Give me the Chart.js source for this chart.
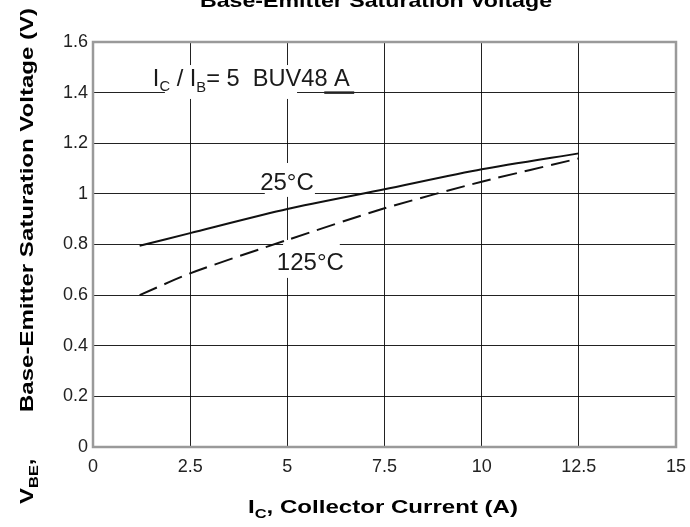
<!DOCTYPE html>
<html>
<head>
<meta charset="utf-8">
<script src="https://cdn.jsdelivr.net/npm/chart.js@4/dist/chart.umd.min.js"></script>
<style>
html,body{margin:0;padding:0;background:#fff;}
#wrap{position:relative;width:690px;height:527px;overflow:hidden;}
canvas{display:block;}
</style>
</head>
<body>
<div id="wrap"><canvas id="c" width="690" height="527"></canvas></div>
<script>
// ---- data ----
const xTicks = [0, 2.5, 5, 7.5, 10, 12.5, 15];
const xTickLabels = ['0', '2.5', '5', '7.5', '10', '12.5', '15'];
const yTicks = [0, 0.2, 0.4, 0.6, 0.8, 1, 1.2, 1.4, 1.6];
const yTickLabels = ['0', '0.2', '0.4', '0.6', '0.8', '1', '1.2', '1.4', '1.6'];
const collectorCurrent = [1.2, 2.5, 5, 7.5, 10, 12.5];
const vbe25C = [0.795, 0.845, 0.94, 1.018, 1.097, 1.16];
const vbe125C = [0.60, 0.686, 0.818, 0.943, 1.048, 1.14];
const seriesNames = ['25°C', '125°C'];

const FONT = "'Liberation Sans', Arial, sans-serif";

function drawRich(ctx, parts, x, y, opt) {
  opt = opt || {};
  let natural = 0;
  parts.forEach(p => {
    ctx.font = (p.bold ? 'bold ' : '') + p.size + 'px ' + FONT;
    p.w = ctx.measureText(p.t).width;
    natural += p.w;
  });
  const sx = opt.sx ? opt.sx : (opt.target ? opt.target / natural : 1);
  const total = natural * sx;
  let start = x;
  if (opt.align === 'center') start = x - total / 2;
  ctx.save();
  ctx.translate(start, y);
  if (opt.rotate) ctx.rotate(opt.rotate);
  ctx.scale(sx, 1);
  ctx.fillStyle = opt.color || '#000';
  ctx.textBaseline = 'alphabetic';
  ctx.textAlign = 'left';
  let cx = 0;
  parts.forEach(p => {
    ctx.font = (p.bold ? 'bold ' : '') + p.size + 'px ' + FONT;
    ctx.fillText(p.t, cx, p.dy || 0);
    cx += p.w;
  });
  ctx.restore();
  return sx;
}

const overlay = {
  id: 'overlay',
  beforeDatasetsDraw(chart) {
    const ctx = chart.ctx, xs = chart.scales.x, ys = chart.scales.y;
    const a = chart.chartArea;
    const X = v => xs.getPixelForValue(v), Y = v => ys.getPixelForValue(v);
    ctx.save();
    // label knock-outs over the grid
    ctx.fillStyle = '#fff';
    const rects = [[1.85, 5.25, 1.509, 1.375], [4.42, 5.71, 1.122, 0.988], [4.89, 6.35, 0.818, 0.668]];
    rects.forEach(r => ctx.fillRect(X(r[0]), Y(r[2]), X(r[1]) - X(r[0]), Y(r[3]) - Y(r[2])));
    // frame
    ctx.strokeStyle = '#9a9a9a';
    ctx.lineWidth = 2.5;
    ctx.strokeRect(a.left, a.top, a.right - a.left, a.bottom - a.top);
    // underline of "A"
    ctx.strokeStyle = '#222';
    ctx.lineWidth = 2.5;
    ctx.beginPath();
    ctx.moveTo(X(5.95), Y(1.4));
    ctx.lineTo(X(6.72), Y(1.4));
    ctx.stroke();
    ctx.restore();
  },
  afterDatasetsDraw(chart) {
    const ctx = chart.ctx, xs = chart.scales.x, ys = chart.scales.y;
    const X = v => xs.getPixelForValue(v), Y = v => ys.getPixelForValue(v);
    drawRich(ctx, [{t: seriesNames[0], size: 24}], X(4.30), Y(1.015), {color: '#1a1a1a'});
    drawRich(ctx, [{t: seriesNames[1], size: 24}], X(4.73), Y(0.70), {color: '#1a1a1a'});
    drawRich(ctx, [
      {t: 'I', size: 24}, {t: 'C', size: 15, dy: 5}, {t: ' / ', size: 24},
      {t: 'I', size: 24}, {t: 'B', size: 15, dy: 6}, {t: '= 5  BUV48 A', size: 24}
    ], X(1.54), Y(1.426), {color: '#1a1a1a', target: 197});
  },
  afterDraw(chart) {
    const ctx = chart.ctx;
    // chart title (partly outside the top edge)
    drawRich(ctx, [{t: 'Base-Emitter Saturation Voltage', size: 19, bold: true}], 376, 7, {align: 'center', target: 352});
    // x axis title
    drawRich(ctx, [
      {t: 'I', size: 19, bold: true}, {t: 'C', size: 13, bold: true, dy: 5},
      {t: ', Collector Current (A)', size: 19, bold: true}
    ], 383, 513, {align: 'center', target: 270});
    // y axis title
    const sx = drawRich(ctx, [
      {t: 'Base-Emitter Saturation Voltage (V)', size: 19, bold: true}
    ], 33, 412, {rotate: -Math.PI / 2, target: 404});
    drawRich(ctx, [
      {t: 'V', size: 19, bold: true}, {t: 'BE', size: 13, bold: true, dy: 5},
      {t: ',', size: 19, bold: true}
    ], 33, 504, {rotate: -Math.PI / 2, sx: sx});
  }
};

const gridColor = (edgeVals) => (c) => {
  const v = c.tick ? c.tick.value : null;
  return edgeVals.includes(v) ? 'rgba(0,0,0,0)' : 'rgba(10,10,10,0.9)';
};

new Chart(document.getElementById('c'), {
  type: 'line',
  data: {
    datasets: [
      {
        label: seriesNames[0],
        data: collectorCurrent.map((x, i) => ({x, y: vbe25C[i]})),
        borderColor: '#111', borderWidth: 2, pointRadius: 0, tension: 0.25, fill: false
      },
      {
        label: seriesNames[1],
        data: collectorCurrent.map((x, i) => ({x, y: vbe125C[i]})),
        borderColor: '#111', borderWidth: 2, borderDash: [19, 8], pointRadius: 0, tension: 0.25, fill: false
      }
    ]
  },
  options: {
    responsive: false,
    animation: false,
    devicePixelRatio: 1,
    layout: {padding: {top: 42, right: 14, left: 0, bottom: 0}},
    plugins: {legend: {display: false}, title: {display: false}, tooltip: {enabled: false}},
    scales: {
      x: {
        type: 'linear', min: 0, max: 15,
        afterBuildTicks: s => { s.ticks = xTicks.map(v => ({value: v})); },
        afterFit: s => { s.height = 80; s.paddingLeft = 0; s.paddingRight = 0; },
        ticks: {
          callback: (v, i) => xTickLabels[i],
          font: {family: FONT, size: 18}, color: '#222', padding: 9, maxRotation: 0, autoSkip: false
        },
        grid: {color: gridColor([0, 15]), lineWidth: 1, drawTicks: false},
        border: {display: false}
      },
      y: {
        type: 'linear', min: 0, max: 1.6,
        afterBuildTicks: s => { s.ticks = yTicks.map(v => ({value: v})); },
        afterFit: s => { s.width = 93; s.paddingTop = 0; s.paddingBottom = 0; },
        ticks: {
          callback: (v, i) => yTickLabels[i],
          font: {family: FONT, size: 18}, color: '#222', padding: 5, autoSkip: false
        },
        grid: {color: gridColor([0, 1.6]), lineWidth: 1, drawTicks: false},
        border: {display: false}
      }
    }
  },
  plugins: [overlay]
});
</script>
</body>
</html>
